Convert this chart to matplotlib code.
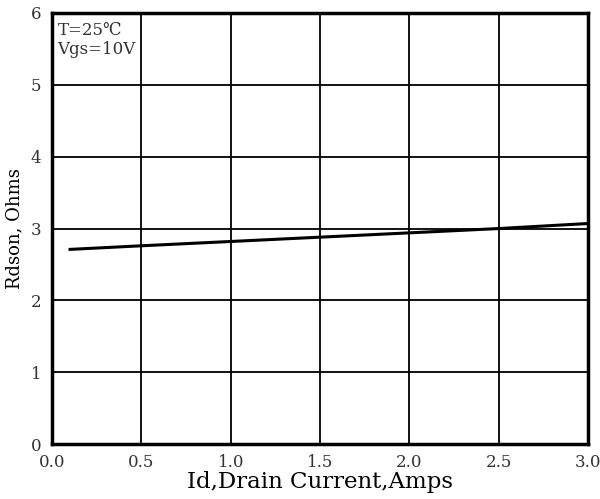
import matplotlib

matplotlib.use("Agg")
import matplotlib.pyplot as plt

# Rdson vs drain current
current = [0.1, 0.5, 1.0, 1.5, 2.0, 2.5, 3.0]
rdson = [2.71, 2.76, 2.82, 2.88, 2.94, 3.00, 3.07]

x_ticks = [0.0, 0.5, 1.0, 1.5, 2.0, 2.5, 3.0]
x_tick_labels = ["0.0", "0.5", "1.0", "1.5", "2.0", "2.5", "3.0"]
y_ticks = [0, 1, 2, 3, 4, 5, 6]

font = ["DejaVu Serif"]

fig = plt.figure(figsize=(6, 4.99), dpi=100)
ax = fig.add_axes([0.087, 0.110, 0.893, 0.864])

ax.plot(current, rdson, color="black", linewidth=2.2)

ax.set_xlim(0, 3.0)
ax.set_ylim(0, 6)
ax.set_xticks(x_ticks)
ax.set_xticklabels(x_tick_labels, family=font, fontsize=12, color="#333333")
ax.set_yticks(y_ticks)
ax.set_yticklabels([str(v) for v in y_ticks], family=font, fontsize=12, color="#333333")
ax.tick_params(axis="x", length=0, pad=7)
ax.tick_params(axis="y", length=0, pad=8)

ax.grid(True, color="black", linewidth=1.3)
for spine in ax.spines.values():
    spine.set_linewidth(2.5)
    spine.set_color("black")

ax.set_xlabel("Id,Drain Current,Amps", family=font, fontsize=16.5, labelpad=0)
ax.set_ylabel("Rdson, Ohms", family=font, fontsize=13, labelpad=5)

ax.text(0.01, 0.98, "T=25\u2103\nVgs=10V", transform=ax.transAxes,
        ha="left", va="top", family=font, fontsize=12, color="#333333",
        linespacing=1.2)

fig.savefig("out.png", dpi=100)
plt.close(fig)
